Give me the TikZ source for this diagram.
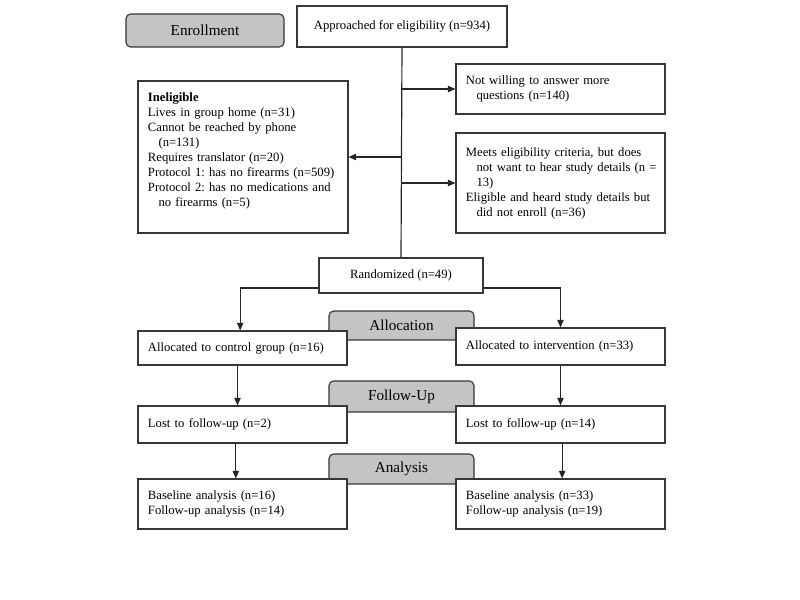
\documentclass[tikz,border=0pt]{standalone}
\usepackage{fontspec}
\setmainfont{Liberation Serif}
\usetikzlibrary{arrows.meta}
\definecolor{stagegray}{RGB}{196,196,196}
\definecolor{boxline}{RGB}{55,55,55}
\frenchspacing

\begin{document}
\begin{tikzpicture}[x=0.03cm, y=-0.03cm,
	box/.style={draw=boxline, line width=1pt, fill=white, align=left, inner xsep=8.5pt, font=\fontsize{10.8}{12.8}\selectfont},
	stage/.style={draw=boxline, line width=1pt, fill=stagegray, rounded corners=4pt, minimum width=4.35cm, font=\fontsize{13}{15}\selectfont},
	arr/.style={-{Triangle[length=6.5pt, width=5.5pt]}, line width=1pt, draw=black!85}]
	\useasboundingbox (0, 0) rectangle (800, 600);

	\node [stage, minimum width=4.74cm, minimum height=0.99cm] (enroll) at (205, 30.5) {Enrollment};
	\node [box, align=center, minimum width=6.3cm, minimum height=1.23cm] (approach) at (402, 26.5) {Approached for eligibility (n=934)};
	\node [box, text width=5.67cm, minimum height=1.5cm] (notwill) at (560.5, 89) {Not willing to answer more\\\mbox{\hspace*{9pt}questions (n=140)}};
	\node [box, text width=5.7cm, minimum height=4.56cm] (inelig) at (243, 157) {\textbf{Ineligible}\\Lives in group home (n=31)\\Cannot be reached by phone\\\mbox{\hspace*{9pt}(n=131)}\\Requires translator (n=20)\\\mbox{Protocol 1: has no firearms (n=509)}\\\mbox{Protocol 2: has no medications and}\\\mbox{\hspace*{9pt}no firearms (n=5)}\\\mbox{}};
	\node [box, text width=5.67cm, minimum height=3cm] (meets) at (560.5, 183) {\mbox{Meets eligibility criteria, but does}\\\mbox{\hspace*{9pt}not want to hear study details (n =}\\\mbox{\hspace*{9pt}13)}\\\mbox{Eligible and heard study details but}\\\mbox{\hspace*{9pt}did not enroll (n=36)}};
	\node [box, align=center, minimum width=4.92cm, minimum height=1.05cm] (random) at (401, 275.5) {Randomized (n=49)};

	\draw [line width=1pt, draw=black!85] (approach.south) -- (random.north);
	\draw [arr] (approach.south |- notwill.west) -- (notwill.west);
	\draw [arr] (approach.south |- inelig.east) -- (inelig.east);
	\draw [arr] (approach.south |- meets.west) -- (meets.west);

	\node [stage, minimum height=0.87cm] (alloc) at (401.5, 325.5) {Allocation};
	\node [stage, minimum height=0.93cm] (follow) at (401.5, 396.5) {Follow-Up};
	\node [stage, minimum height=0.9cm] (analysis) at (401.5, 469) {Analysis};

	\node [box, text width=5.67cm, minimum height=1.02cm] (ctrl) at (242.5, 348) {Allocated to control group (n=16)};
	\node [box, text width=5.67cm, minimum height=1.11cm] (interv) at (560.5, 346.5) {Allocated to intervention (n=33)};
	\node [box, text width=5.67cm, minimum height=1.11cm] (lostc) at (242.5, 424.5) {Lost to follow-up (n=2)};
	\node [box, text width=5.67cm, minimum height=1.11cm] (losti) at (560.5, 424.5) {Lost to follow-up (n=14)};
	\node [box, text width=5.67cm, minimum height=1.5cm] (basec) at (242.5, 504) {Baseline analysis (n=16)\\Follow-up analysis (n=14)};
	\node [box, text width=5.67cm, minimum height=1.5cm] (basei) at (560.5, 504) {Baseline analysis (n=33)\\Follow-up analysis (n=19)};

	\draw [arr] ([yshift=-0.375cm]random.west) -| ([xshift=-0.07cm]ctrl.north);
	\draw [arr] ([yshift=-0.375cm]random.east) -| (interv.north);
	\draw [arr] ([xshift=-0.15cm]ctrl.south) -- ([xshift=-0.15cm]lostc.north);
	\draw [arr] (interv.south) -- (losti.north);
	\draw [arr] ([xshift=-0.2cm]lostc.south) -- ([xshift=-0.2cm]basec.north);
	\draw [arr] ([xshift=0.05cm]losti.south) -- ([xshift=0.05cm]basei.north);
\end{tikzpicture}
\end{document}
